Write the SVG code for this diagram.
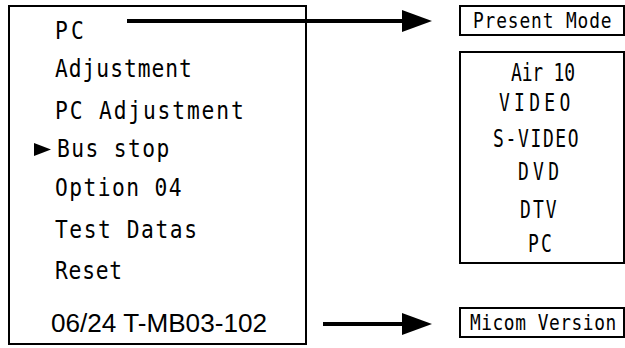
<svg xmlns="http://www.w3.org/2000/svg" width="625" height="348" viewBox="0 0 625 348">
<style>
  .box { fill: #fff; stroke: #000; stroke-width: 2; }
  .t { font-family: "DejaVu Sans Mono", "Liberation Mono", monospace; font-size: 25px; fill: #000; }
  .r { font-family: "DejaVu Sans Mono", "Liberation Mono", monospace; font-size: 25px; fill: #000; }
  .h { font-family: "DejaVu Sans Mono", "Liberation Mono", monospace; font-size: 21px; fill: #000; }
  .m { font-family: "DejaVu Sans Mono", "Liberation Mono", monospace; font-size: 21px; fill: #000; }
  .s { font-family: "Liberation Sans", Arial, sans-serif; font-size: 26px; fill: #000; }
  .conn { stroke: #000; stroke-width: 4; fill: none; }
</style>
<defs>
  <marker id="ah" markerUnits="userSpaceOnUse" viewBox="0 0 30 22" refX="0" refY="11" markerWidth="30" markerHeight="22" orient="auto">
    <path d="M0,0 L30,11 L0,22 Z" fill="#000"/>
  </marker>
</defs>
<rect width="625" height="348" fill="#fff"/>
<g id="menu">
  <rect class="box" x="9" y="6" width="297" height="338"/>
  <text class="t" transform="translate(55,0) scale(0.85,1)" x="0" y="39" textLength="34" lengthAdjust="spacing">PC</text>
  <text class="t" transform="translate(55,0) scale(0.85,1)" x="0" y="77" textLength="161" lengthAdjust="spacing">Adjustment</text>
  <text class="t" transform="translate(55,0) scale(0.85,1)" x="0" y="119" textLength="222" lengthAdjust="spacing">PC Adjustment</text>
  <path d="M34,143 L51,149.5 L34,156 Z" fill="#000"/>
  <text class="t" transform="translate(57,0) scale(0.85,1)" x="0" y="157" textLength="132" lengthAdjust="spacing">Bus stop</text>
  <text class="t" transform="translate(55,0) scale(0.85,1)" x="0" y="196" textLength="149" lengthAdjust="spacing">Option 04</text>
  <text class="t" transform="translate(55,0) scale(0.85,1)" x="0" y="238" textLength="167" lengthAdjust="spacing">Test Datas</text>
  <text class="t" transform="translate(55,0) scale(0.85,1)" x="0" y="279" textLength="79" lengthAdjust="spacing">Reset</text>
  <text class="s" x="51" y="332" textLength="216" lengthAdjust="spacingAndGlyphs">06/24 T-MB03-102</text>
</g>
<g id="present-mode">
  <rect class="box" x="460" y="6" width="164" height="29"/>
  <text class="h" transform="translate(473,0) scale(0.85,1)" x="0" y="28" textLength="163" lengthAdjust="spacing">Present Mode</text>
</g>
<g id="mode-list">
  <rect class="box" x="460" y="52" width="164" height="211"/>
  <text class="r" transform="translate(511,0) scale(0.72,1)" x="0" y="81" textLength="89" lengthAdjust="spacing">Air 10</text>
  <text class="r" transform="translate(499,0) scale(0.72,1)" x="0" y="111" textLength="99" lengthAdjust="spacing">VIDEO</text>
  <text class="r" transform="translate(493,0) scale(0.72,1)" x="0" y="147" textLength="119" lengthAdjust="spacing">S-VIDEO</text>
  <text class="r" transform="translate(518,0) scale(0.72,1)" x="0" y="180" textLength="57" lengthAdjust="spacing">DVD</text>
  <text class="r" transform="translate(520,0) scale(0.72,1)" x="0" y="218" textLength="51" lengthAdjust="spacing">DTV</text>
  <text class="r" transform="translate(528,0) scale(0.72,1)" x="0" y="252" textLength="33" lengthAdjust="spacing">PC</text>
</g>
<g id="micom-version">
  <rect class="box" x="460" y="308" width="164" height="29"/>
  <text class="m" transform="translate(470,0) scale(0.85,1)" x="0" y="330" textLength="172" lengthAdjust="spacing">Micom Version</text>
</g>
<g id="connectors">
  <line class="conn" x1="127" y1="21" x2="402" y2="21" marker-end="url(#ah)"/>
  <line class="conn" x1="323" y1="324" x2="402" y2="324" marker-end="url(#ah)"/>
</g>
</svg>
